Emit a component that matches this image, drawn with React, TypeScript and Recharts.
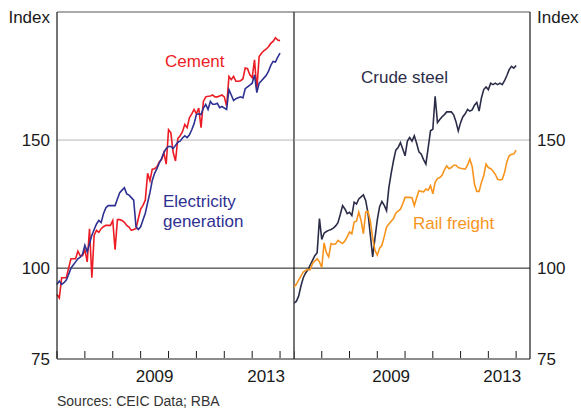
import React from 'react';
import { LineChart, Line, XAxis, YAxis, ReferenceLine } from 'recharts';

// monthly, Jan 2006 to Jan 2014 (index, log scale)
const START_YEAR = 2006;
const yearTicks = [2006, 2007, 2008, 2009, 2010, 2011, 2012, 2013, 2014];
const yearLabels = [2009.5, 2013.5];
const indexTicks = [75, 100, 150];

const cement = [
  92, 91, 97, 97, 97, 100, 103, 103, 103, 105.5,
  104, 104, 106, 102, 113.3, 97, 111, 112.7, 112, 113.3,
  114, 114.5, 114.5, 114.5, 116.3, 106, 116.6, 116.6, 116.3, 115.6,
  114.5, 113.9, 112.7, 113, 113.3, 117, 120.6, 122, 124, 135,
  131.9, 136.8, 137, 137.8, 140, 141, 144.2, 139, 155, 153.5,
  144.2, 140.4, 150.7, 152, 154, 157.6, 156, 161, 163, 165.3,
  163, 166, 156, 169.5, 172, 172.3, 172.5, 173, 172, 172,
  172.5, 173, 172, 167, 183.5, 181.6, 183.5, 180.7, 180.7, 181,
  182, 188.4, 188, 184.4, 182.7, 193.4, 176, 195.4, 197.5, 199,
  200, 201.6, 203.7, 205, 207.4, 205.9, 205.5,
];

const electricity = [
  95, 96, 95, 95.5, 96.3, 98, 100, 101, 102, 103,
  103.5, 104.5, 107.5, 105.3, 108, 111, 113, 115, 116.3, 115.5,
  118.8, 121, 121.9, 121.9, 121.9, 121.9, 124.5, 127, 128, 129,
  126.5, 126, 125, 124, 114, 113, 114, 116.5, 119, 123,
  127, 132, 135, 137, 139.5, 141.5, 144.2, 146, 147, 147,
  146, 147.5, 149, 149.5, 151, 152, 151.2, 152.5, 155, 158,
  162.6, 163, 162.6, 166, 167.9, 165.3, 169.5, 168, 168, 168.5,
  166.2, 166.8, 166, 165.3, 176, 173, 170, 171, 171.5, 172,
  171.4, 176.5, 177.5, 178.5, 179.6, 184.4, 174.3, 179.6, 181, 182.5,
  184, 186.4, 190, 192.4, 192, 195, 197.5,
];

const crudeSteel = [
  89.5, 90, 91.5, 94.5, 97, 98.5, 99.5, 101, 102.5, 104,
  105, 117, 109.5, 111.7, 112.3, 112.7, 113, 113.5, 114.3, 115.5,
  118.5, 121.9, 120.6, 118.8, 119.3, 118.1, 123.2, 122.5, 124.5, 125.3,
  126.1, 123.8, 118.8, 111, 103.6, 110, 116.5, 121.5, 123.5, 122,
  120, 129, 135, 140.5, 145.3, 146.5, 148.8, 145.8, 142.7, 149.5,
  151.2, 149.5, 152, 148.5, 144.5, 143.4, 141, 139, 146.5, 154.5,
  155.2, 172.3, 158.5, 160.1, 161.5, 162.6, 164, 164, 164, 162.5,
  159, 154.4, 158.5, 161.5, 163, 165.3, 164.4, 165, 167.5, 169,
  164.4, 171.4, 176, 177.5, 176, 179.6, 178.8, 179.6, 178.8, 179.6,
  178.8, 181, 184, 187.5, 189.4, 188.4, 190,
];

const railFreight = [
  94.1, 95, 96.3, 97.5, 98.8, 99.3, 99.6, 99.5, 101.5, 102.3,
  103, 102, 100.2, 108.3, 105, 103.6, 108.1, 107.8, 108, 109.2,
  108.6, 108.1, 109, 110.4, 112.1, 111.5, 115.7, 116, 119.4, 116.3,
  111.5, 119.4, 119.7, 116, 110, 105.8, 104.2, 106.5, 107.5, 110.5,
  113.9, 115, 116, 117, 119, 119.8, 120.5, 122.6, 125.1, 125.1,
  125.1, 125, 121.9, 125, 127.8, 127.5, 127.3, 128.5, 128, 129.8,
  126.5, 131.2, 132.8, 133.2, 134.2, 136.5, 138.2, 137, 137.5, 138.5,
  138.5, 137.5, 137.2, 137, 136.8, 138.5, 141.2, 138, 130.5, 127.5,
  127.5, 131.2, 134, 139, 137.5, 137, 136, 134.6, 132.5, 132.2,
  132.5, 135.4, 140, 142.7, 143.4, 143.5, 145.3,
];

const leftData = cement.map((v, i) => ({ t: START_YEAR + i / 12, cement: v, electricity: electricity[i] }));
const rightData = crudeSteel.map((v, i) => ({ t: START_YEAR + i / 12, steel: v, rail: railFreight[i] }));
const xTicks = [...yearTicks, ...yearLabels].sort((a, b) => a - b);

const FONT = '"Liberation Sans", Arial, sans-serif';
const INK = '#1a1a1a';
const RED = '#ed1c24';
const BLUE = '#2e3192';
const NAVY = '#2b2d48';
const ORANGE = '#f7941d';

// whole years: short mark pointing up from the axis; mid-years: the year label
const YearTick = (props: any) => {
  const { x, y, payload } = props;
  const v = payload.value as number;
  if (Number.isInteger(v)) {
    return <line x1={x} x2={x} y1={y - 1} y2={y - 8} stroke={INK} strokeWidth={1} />;
  }
  return (
    <text x={x} y={y} dy={23} textAnchor="middle" fontSize={17} fill={INK} fontFamily={FONT}>
      {Math.floor(v)}
    </text>
  );
};

const tickStyle = { fontSize: 17, fill: INK, fontFamily: FONT };

function xAxis() {
  return (
    <XAxis xAxisId="yr" type="number" dataKey="t" domain={[2006, 2014.5]} ticks={xTicks}
      interval={0} height={49} tickSize={0} tickMargin={0} tick={<YearTick />}
      axisLine={{ stroke: INK, strokeWidth: 1.2 }} tickLine={false} />
  );
}

const label = (text: React.ReactNode, left: number, top: number, color: string, extra: React.CSSProperties = {}) => (
  <div style={{ position: 'absolute', left, top, color, fontSize: 17, lineHeight: '20px', fontFamily: FONT, whiteSpace: 'nowrap', ...extra }}>
    {text}
  </div>
);

export default function App() {
  return (
    <div style={{ position: 'absolute', left: 0, top: 0, width: 581, height: 408, background: '#fff', fontFamily: FONT, overflow: 'hidden' }}>
      <div style={{ position: 'absolute', left: 0, top: 0 }}>
        <LineChart width={300} height={408} data={leftData} margin={{ top: 12, right: 6, bottom: 0, left: 0 }}>
          {xAxis()}
          <YAxis type="number" scale="log" domain={[75, 225]} ticks={indexTicks} interval={0} allowDataOverflow
            width={57} tickLine={false} tickMargin={1} axisLine={{ stroke: INK, strokeWidth: 1.2 }} tick={tickStyle} />
          <ReferenceLine xAxisId="yr" y={150} stroke="#b5b5b5" strokeWidth={1} />
          <ReferenceLine xAxisId="yr" y={100} stroke={INK} strokeWidth={1} />
          <ReferenceLine xAxisId="yr" y={225} stroke="#555" strokeWidth={1} />
          <ReferenceLine xAxisId="yr" x={2014.5} stroke={INK} strokeWidth={1.2} />
          <Line xAxisId="yr" dataKey="cement" stroke={RED} strokeWidth={1.6} dot={false} isAnimationActive={false} />
          <Line xAxisId="yr" dataKey="electricity" stroke={BLUE} strokeWidth={1.6} dot={false} isAnimationActive={false} />
        </LineChart>
      </div>
      <div style={{ position: 'absolute', left: 294, top: 0 }}>
        <LineChart width={287} height={408} data={rightData} margin={{ top: 12, right: 0, bottom: 0, left: 0 }}>
          {xAxis()}
          <YAxis orientation="right" type="number" scale="log" domain={[75, 225]} ticks={indexTicks} interval={0} allowDataOverflow
            width={51} tickLine={false} tickMargin={1} axisLine={{ stroke: INK, strokeWidth: 1.2 }} tick={tickStyle} />
          <ReferenceLine xAxisId="yr" y={150} stroke="#b5b5b5" strokeWidth={1} />
          <ReferenceLine xAxisId="yr" y={100} stroke={INK} strokeWidth={1} />
          <ReferenceLine xAxisId="yr" y={225} stroke="#555" strokeWidth={1} />
          <Line xAxisId="yr" dataKey="steel" stroke={NAVY} strokeWidth={1.6} dot={false} isAnimationActive={false} />
          <Line xAxisId="yr" dataKey="rail" stroke={ORANGE} strokeWidth={1.6} dot={false} isAnimationActive={false} />
        </LineChart>
      </div>
      {label('Index', 0, 8, INK, { width: 50, textAlign: 'right' })}
      {label('Index', 537, 8, INK)}
      {label('Cement', 165, 52, RED)}
      {label(<>Electricity<br />generation</>, 163, 192, BLUE)}
      {label('Crude steel', 361, 68, NAVY)}
      {label('Rail freight', 413, 214, ORANGE)}
      <div style={{ position: 'absolute', left: 57, top: 393, fontSize: 14, lineHeight: '16px', color: '#333', fontFamily: FONT }}>
        Sources: CEIC Data; RBA
      </div>
    </div>
  );
}
